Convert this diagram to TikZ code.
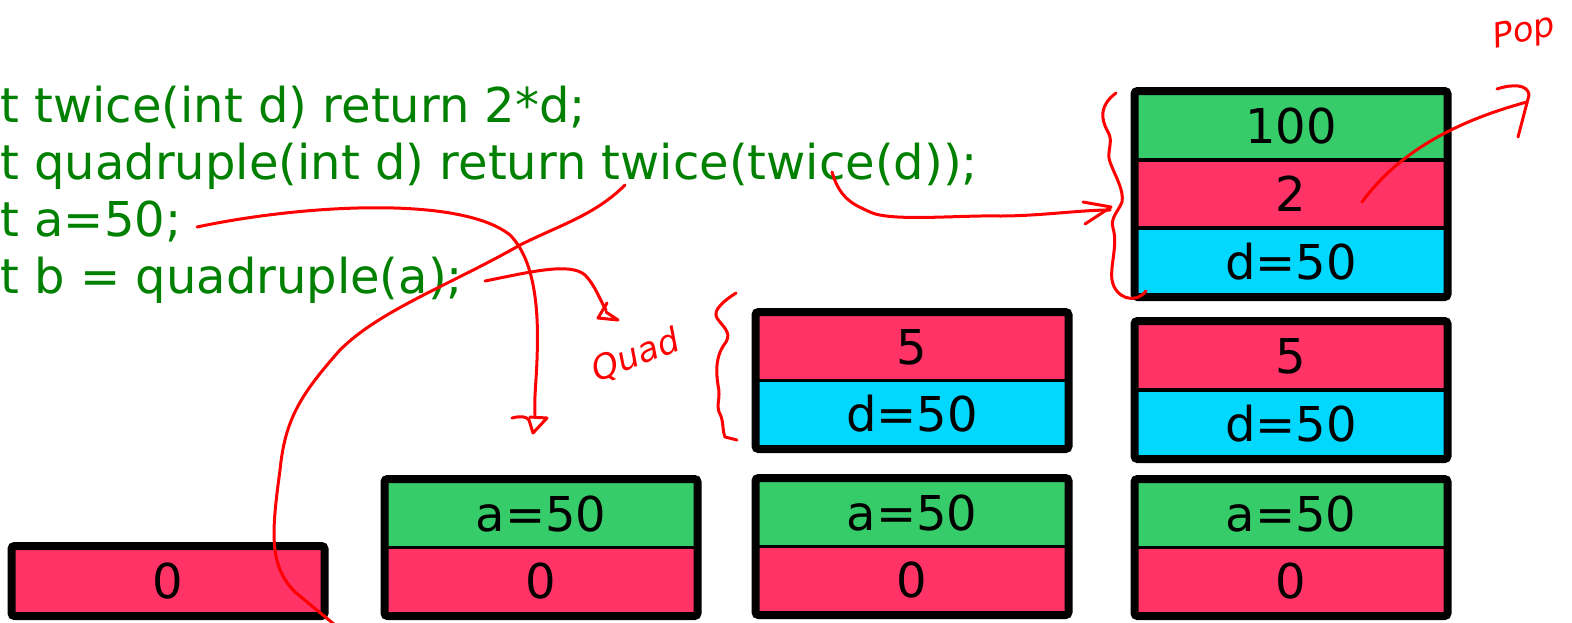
\documentclass[tikz,border=0pt]{standalone}
\usepackage{fontspec}
\setmainfont{DejaVu Sans}

\definecolor{codegreen}{RGB}{0,128,0}
\definecolor{retgreen}{RGB}{55,204,106}
\definecolor{argred}{RGB}{255,51,102}
\definecolor{varcyan}{RGB}{0,216,255}
\definecolor{penred}{RGB}{255,0,0}

\tikzset{
  cell/.style={draw=black,line width=1.5pt,minimum width=155pt,minimum height=33.5pt,
    inner sep=0pt,font=\fontsize{24}{28}\selectfont},
  frame/.style={draw=black,line width=4pt,rounded corners=1.5pt},
  code/.style={anchor=base west,inner sep=0pt,text=codegreen,font=\fontsize{24}{28}\selectfont},
  pen/.style={draw=penred,line width=1.5pt,line cap=round,line join=round},
  scrawl/.style={text=penred,inner sep=0pt,font=\itshape\fontsize{17}{20}\selectfont},
}

\begin{document}
\begin{tikzpicture}[x=0.5pt,y=-0.5pt]
  \useasboundingbox (0,0) rectangle (1572,622);

  % the program
  \node[code] (twice) at (0,122) {t twice(int d) return 2*d;};
  \node[code] (quad)  at (0,179) {t quadruple(int d) return twice(twice(d));};
  \node[code] (seta)  at (0,236) {t a=50;};
  \node[code] (setb)  at (0,293) {t b = quadruple(a);};

  % stack, step 1
  \node[cell,fill=argred] (sOneRet) at (168,581) {0};
  \draw[frame] (sOneRet.north west) rectangle (sOneRet.south east);

  % step 2
  \node[cell,fill=retgreen] (sTwoA)   at (541,514) {a=50};
  \node[cell,fill=argred]   (sTwoRet) at (541,581) {0};
  \draw[frame] (sTwoA.north west) rectangle (sTwoRet.south east);

  % step 3
  \node[cell,fill=retgreen] (sThreeA)   at (912,513) {a=50};
  \node[cell,fill=argred]   (sThreeRet) at (912,580) {0};
  \draw[frame] (sThreeA.north west) rectangle (sThreeRet.south east);
  \node[cell,fill=argred]   (sThreeQ) at (912,347) {5};
  \node[cell,fill=varcyan]  (sThreeD) at (912,414) {d=50};
  \draw[frame] (sThreeQ.north west) rectangle (sThreeD.south east);

  % step 4
  \node[cell,fill=retgreen] (sFourA)   at (1291,514) {a=50};
  \node[cell,fill=argred]   (sFourRet) at (1291,581) {0};
  \draw[frame] (sFourA.north west) rectangle (sFourRet.south east);
  \node[cell,fill=argred]   (sFourQ) at (1291,356) {5};
  \node[cell,fill=varcyan]  (sFourD) at (1291,424) {d=50};
  \draw[frame] (sFourQ.north west) rectangle (sFourD.south east);
  \node[cell,fill=retgreen] (sFourVal) at (1291,126) {100};
  \node[cell,fill=argred]   (sFourTw)  at (1291,194) {2};
  \node[cell,fill=varcyan]  (sFourTd)  at (1291,262) {d=50};
  \draw[frame] (sFourVal.north west) rectangle (sFourTd.south east);

  % pen marks
  \draw[pen] (197,227) .. controls (300,205) and (460,195) .. (510,235)
             .. controls (540,265) and (538,330) .. (537,360)
             .. controls (536,385) and (534,400) .. (535,415);
  \draw[pen] (512,418) .. controls (520,416) and (526,416) .. (529,420)
             -- (533,433) -- (547,418) -- (530,417);

  \draw[pen] (485,281) .. controls (530,272) and (570,262) .. (585,275)
             .. controls (595,285) and (600,300) .. (606,310);
  \draw[pen] (607,303) -- (598,318) -- (618,320) -- (606,312);
  \node[scrawl,rotate=22] (quadnote) at (636,356) {Quad};

  \draw[pen] (736,293) .. controls (725,300) and (712,310) .. (717,318)
             .. controls (722,326) and (732,332) .. (726,342)
             .. controls (715,356) and (716,372) .. (718,385)
             .. controls (721,398) and (716,405) .. (719,412)
             .. controls (724,420) and (722,430) .. (725,437) -- (737,440);

  \draw[pen] (625,185) .. controls (595,215) and (560,225) .. (520,245)
             .. controls (450,285) and (380,310) .. (340,350)
             .. controls (300,395) and (285,420) .. (280,470)
             .. controls (272,530) and (268,565) .. (295,592) -- (335,625);

  \draw[pen] (832,172) .. controls (840,200) and (855,205) .. (870,212)
             .. controls (890,222) and (960,215) .. (1000,216)
             .. controls (1040,216) and (1080,210) .. (1110,210);
  \draw[pen] (1083,202) -- (1111,207) -- (1085,224);

  \draw[pen] (1116,93) .. controls (1100,105) and (1100,118) .. (1108,132)
             .. controls (1114,142) and (1106,152) .. (1110,162)
             .. controls (1116,178) and (1124,190) .. (1122,202)
             .. controls (1118,212) and (1110,218) .. (1113,228)
             .. controls (1118,245) and (1110,265) .. (1112,280)
             .. controls (1115,298) and (1135,305) .. (1146,291);

  \draw[pen] (1362,202) .. controls (1400,150) and (1460,120) .. (1527,102);
  \draw[pen] (1497,89) .. controls (1512,84) and (1528,84) .. (1529,95) -- (1518,137);
  \node[scrawl,rotate=12] (popnote) at (1524,33) {Pop};
\end{tikzpicture}
\end{document}
